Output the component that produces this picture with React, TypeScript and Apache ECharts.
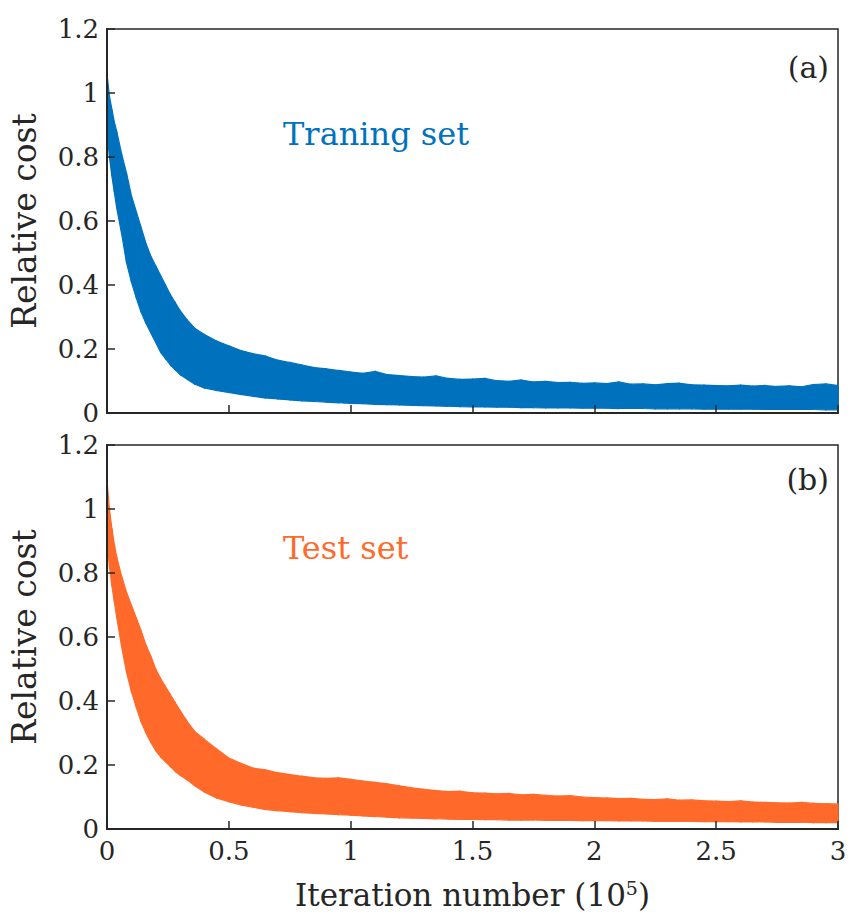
import React, { useEffect, useRef } from "react";
import * as echarts from "echarts";

// x positions (units of 10^5 iterations)
const xs = [
  0, 0.01, 0.02, 0.03, 0.04, 0.06, 0.08, 0.1, 0.12, 0.14, 0.16, 0.18, 0.2, 0.22, 0.24, 0.26, 0.28, 0.3, 0.33, 0.36, 0.4, 0.45, 0.5,
  0.55, 0.6, 0.65, 0.7, 0.75, 0.8, 0.85, 0.9, 0.95, 1.0,
  1.05, 1.1, 1.15, 1.2, 1.25, 1.3, 1.35, 1.4, 1.45, 1.5,
  1.55, 1.6, 1.65, 1.7, 1.75, 1.8, 1.85, 1.9, 1.95, 2.0,
  2.05, 2.1, 2.15, 2.2, 2.25, 2.3, 2.35, 2.4, 2.45, 2.5,
  2.55, 2.6, 2.65, 2.7, 2.75, 2.8, 2.85, 2.9, 2.95, 3.0,
];

// training set: upper and lower envelope of the noisy cost trace
const trainUpper = [
  1.06, 0.99, 0.95, 0.91, 0.88, 0.81, 0.75, 0.68, 0.63, 0.58, 0.53, 0.49, 0.46, 0.43, 0.4, 0.37, 0.345, 0.32, 0.29, 0.265, 0.245, 0.225, 0.21,
  0.195, 0.185, 0.178, 0.165, 0.158, 0.15, 0.142, 0.138, 0.133, 0.128,
  0.124, 0.13, 0.12, 0.117, 0.114, 0.112, 0.116, 0.108, 0.105, 0.106,
  0.108, 0.101, 0.099, 0.103, 0.097, 0.099, 0.095, 0.096, 0.093, 0.094,
  0.092, 0.097, 0.09, 0.091, 0.088, 0.092, 0.093, 0.088, 0.087, 0.086,
  0.085, 0.087, 0.084, 0.086, 0.083, 0.085, 0.082, 0.089, 0.091, 0.086,
];
const trainLower = [
  0.88, 0.8, 0.74, 0.69, 0.64, 0.56, 0.47, 0.41, 0.36, 0.315, 0.28, 0.25, 0.22, 0.19, 0.17, 0.15, 0.135, 0.12, 0.105, 0.09, 0.078, 0.07, 0.064,
  0.058, 0.052, 0.047, 0.044, 0.041, 0.038, 0.036, 0.034, 0.032, 0.03,
  0.029, 0.027, 0.026, 0.025, 0.024, 0.023, 0.022, 0.021, 0.02, 0.019,
  0.019, 0.018, 0.018, 0.017, 0.017, 0.016, 0.016, 0.016, 0.015, 0.015,
  0.015, 0.014, 0.014, 0.014, 0.013, 0.013, 0.013, 0.013, 0.012, 0.012,
  0.012, 0.012, 0.012, 0.011, 0.011, 0.011, 0.011, 0.011, 0.01, 0.01,
];

// test set: upper and lower envelope
const testUpper = [
  1.09, 1.0, 0.94, 0.89, 0.85, 0.79, 0.74, 0.7, 0.66, 0.62, 0.575, 0.54, 0.5, 0.47, 0.445, 0.42, 0.395, 0.37, 0.335, 0.305, 0.28, 0.25, 0.222,
  0.205, 0.19, 0.185, 0.176, 0.17, 0.165, 0.16, 0.158, 0.16, 0.155,
  0.15, 0.146, 0.141, 0.135, 0.129, 0.124, 0.12, 0.117, 0.118, 0.113,
  0.112, 0.11, 0.111, 0.107, 0.108, 0.105, 0.103, 0.104, 0.1, 0.098,
  0.097, 0.095, 0.096, 0.093, 0.092, 0.094, 0.09, 0.091, 0.088, 0.087,
  0.086, 0.088, 0.084, 0.083, 0.082, 0.081, 0.083, 0.08, 0.079, 0.078,
];
const testLower = [
  0.9, 0.82, 0.76, 0.71, 0.66, 0.57, 0.49, 0.43, 0.38, 0.335, 0.3, 0.27, 0.245, 0.225, 0.21, 0.195, 0.18, 0.168, 0.153, 0.135, 0.115, 0.097, 0.085,
  0.075, 0.068, 0.061, 0.057, 0.054, 0.051, 0.049, 0.047, 0.045, 0.043,
  0.041, 0.039, 0.037, 0.035, 0.034, 0.033, 0.032, 0.031, 0.03, 0.03,
  0.029, 0.029, 0.028, 0.028, 0.028, 0.027, 0.027, 0.027, 0.026, 0.026,
  0.026, 0.025, 0.025, 0.025, 0.024, 0.024, 0.024, 0.024, 0.023, 0.023,
  0.023, 0.022, 0.022, 0.022, 0.021, 0.021, 0.021, 0.02, 0.02, 0.02,
];

const panelLabels = ["(a)", "(b)"];
const seriesNames = ["Traning set", "Test set"];
const yAxisTitle = "Relative cost";

const BLUE = "#0072BD";
const ORANGE = "#FF6A2B";
const INK = "#262626";
const FONT = "'DejaVu Serif', serif";

// one polygon segment per pair of neighbouring envelope samples
function bandSeries(idx: number, upper: number[], lower: number[], color: string) {
  const data = xs.slice(0, -1).map((x, k) => [x, upper[k], lower[k], xs[k + 1], upper[k + 1], lower[k + 1]]);
  return {
    type: "custom",
    name: seriesNames[idx],
    xAxisIndex: idx,
    yAxisIndex: idx,
    data,
    encode: { x: [0, 3], y: [1, 2, 4, 5] },
    z: 2,
    renderItem: (_params: any, api: any) => {
      const p0 = api.coord([api.value(0), api.value(1)]);
      const p1 = api.coord([api.value(3), api.value(4)]);
      const p2 = api.coord([api.value(3), api.value(5)]);
      const p3 = api.coord([api.value(0), api.value(2)]);
      return {
        type: "polygon",
        shape: { points: [p0, p1, p2, p3] },
        style: { fill: color, stroke: color, lineWidth: 1.2 },
      };
    },
  };
}

export default function App() {
  const ref = useRef<HTMLDivElement>(null);
  useEffect(() => {
    if (!ref.current) return;
    const chart = echarts.init(ref.current, undefined, { renderer: "svg" });
    const gridBase = { left: 107, width: 731, height: 384, show: true, borderColor: INK, borderWidth: 1.5 };
    const xAxisBase = {
      type: "value",
      min: 0,
      max: 3,
      interval: 0.5,
      axisLine: { show: true, lineStyle: { color: INK, width: 2 } },
      axisTick: { show: true, inside: true, length: 8, lineStyle: { color: INK, width: 1.5 } },
      splitLine: { show: false },
      z: 5,
    };
    const yAxisBase = {
      type: "value",
      min: 0,
      max: 1.2,
      interval: 0.2,
      name: yAxisTitle,
      nameLocation: "middle",
      nameGap: 66,
      nameTextStyle: { color: INK, fontFamily: FONT, fontSize: 33 },
      axisLine: { show: true, lineStyle: { color: INK, width: 2 } },
      axisTick: { show: true, inside: true, length: 8, lineStyle: { color: INK, width: 1.5 } },
      axisLabel: { color: INK, fontFamily: FONT, fontSize: 26, margin: 8 },
      splitLine: { show: false },
      z: 5,
    };
    chart.setOption({
      animation: false,
      backgroundColor: "#ffffff",
      grid: [
        { ...gridBase, top: 29 },
        { ...gridBase, top: 445 },
      ],
      xAxis: [
        { ...xAxisBase, gridIndex: 0, axisLabel: { show: false } },
        {
          ...xAxisBase,
          gridIndex: 1,
          axisLabel: { color: INK, fontFamily: FONT, fontSize: 26, margin: 9 },
          name: "{a|Iteration number (10}{s|5}{a|)}",
          nameLocation: "middle",
          nameGap: 49,
          nameTextStyle: {
            rich: {
              a: { color: INK, fontFamily: FONT, fontSize: 31, lineHeight: 34 },
              s: { color: INK, fontFamily: FONT, fontSize: 19, lineHeight: 34, verticalAlign: "top", padding: [0, 0, 10, 0] },
            },
          },
        },
      ],
      yAxis: [
        { ...yAxisBase, gridIndex: 0 },
        { ...yAxisBase, gridIndex: 1 },
      ],
      series: [
        bandSeries(0, trainUpper, trainLower, BLUE),
        bandSeries(1, testUpper, testLower, ORANGE),
      ],
      graphic: [
        { type: "text", x: 283, y: 134, style: { text: seriesNames[0], fill: BLUE, font: `32px ${FONT}`, verticalAlign: "middle", align: "left" } },
        { type: "text", x: 283, y: 548, style: { text: seriesNames[1], fill: ORANGE, font: `32px ${FONT}`, verticalAlign: "middle", align: "left" } },
        { type: "text", x: 829, y: 67, style: { text: panelLabels[0], fill: INK, font: `30px ${FONT}`, verticalAlign: "middle", align: "right" } },
        { type: "text", x: 829, y: 479, style: { text: panelLabels[1], fill: INK, font: `30px ${FONT}`, verticalAlign: "middle", align: "right" } },
      ],
    });
    return () => chart.dispose();
  }, []);
  return <div ref={ref} style={{ position: "fixed", left: 0, top: 0, width: 856, height: 921 }} />;
}
